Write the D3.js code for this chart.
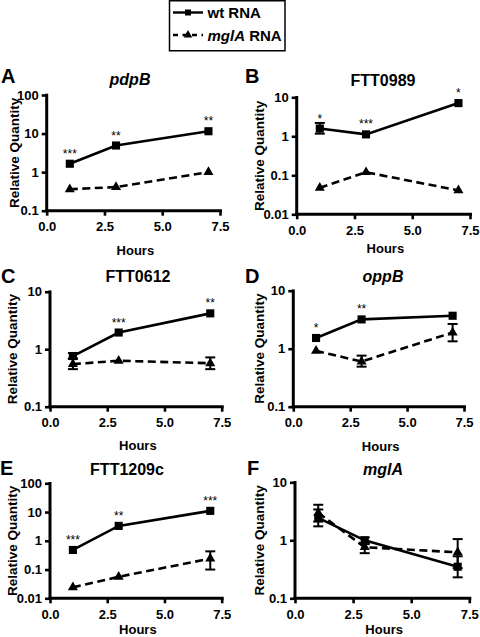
<!DOCTYPE html>
<html><head><meta charset="utf-8">
<script src="https://cdn.jsdelivr.net/npm/d3@7"></script>
<style>
body{margin:0;background:#fff}
svg{display:block}
text{font-family:"Liberation Sans",Arial,Helvetica,sans-serif;fill:#000}
</style>
</head><body>
<svg id="chart" width="480" height="637"></svg>
<script>
// ---------------- data ----------------
const hours = [1, 3, 7];
const xTicks = [0, 2.5, 5, 7.5];
const panelLetters = ["A", "B", "C", "D", "E", "F"];
const panelTitles = ["pdpB", "FTT0989", "FTT0612", "oppB", "FTT1209c", "mglA"];
const titleItalic = [true, false, false, true, false, true];
const yDomains = [[0.1, 100], [0.01, 10], [0.1, 10], [0.1, 10], [0.01, 100], [0.1, 10]];

const wtValues = [
  [1.65, 4.9, 11.5],
  [1.58, 1.12, 7.1],
  [0.76, 1.95, 4.2],
  [1.53, 3.2, 3.7],
  [0.48, 3.3, 11.0],
  [2.43, 1.0, 0.35]
];
const wtLow = [
  [1.65, 4.9, 11.5],
  [1.17, 1.12, 7.1],
  [0.68, 1.95, 4.2],
  [1.53, 3.2, 3.7],
  [0.48, 3.3, 11.0],
  [1.74, 0.86, 0.23]
];
const wtHigh = [
  [1.65, 4.9, 11.5],
  [2.2, 1.12, 7.1],
  [0.86, 1.95, 4.2],
  [1.53, 3.2, 3.7],
  [0.48, 3.3, 11.0],
  [3.4, 1.12, 0.53]
];
const mglValues = [
  [0.36, 0.41, 1.0],
  [0.048, 0.12, 0.041],
  [0.55, 0.63, 0.57],
  [0.92, 0.6, 1.9],
  [0.024, 0.056, 0.24],
  [2.97, 0.76, 0.62]
];
const mglLow = [
  [0.36, 0.41, 1.0],
  [0.048, 0.12, 0.041],
  [0.45, 0.63, 0.45],
  [0.92, 0.49, 1.34],
  [0.024, 0.056, 0.1],
  [2.1, 0.6, 0.33]
];
const mglHigh = [
  [0.36, 0.41, 1.0],
  [0.048, 0.12, 0.041],
  [0.69, 0.63, 0.72],
  [0.92, 0.76, 2.67],
  [0.024, 0.056, 0.43],
  [4.1, 0.9, 1.05]
];
const stars = [
  ["***", "**", "**"],
  ["*", "***", "*"],
  ["", "***", "**"],
  ["*", "**", ""],
  ["***", "**", "***"],
  ["", "", ""]
];
const legendLabels = [["wt RNA", ""], ["mglA", " RNA"]];

// ---------------- layout ----------------
const layout = [
  {left: 46.7, right: 220,   top: 95,    bottom: 210.7, lx: 1,   ly: 83,  tx: 130, ty: 85,  ylx: 9,   hy: 255},
  {left: 296.7, right: 470,  top: 97.3,  bottom: 214.3, lx: 245, ly: 83,  tx: 383, ty: 86,  ylx: 254, hy: 252.5},
  {left: 50,   right: 221.7, top: 291.7, bottom: 406.7, lx: 1,   ly: 283, tx: 138, ty: 282, ylx: 7,   hy: 450},
  {left: 293.3, right: 464,  top: 290.7, bottom: 406.7, lx: 245, ly: 283, tx: 383, ty: 282, ylx: 254, hy: 451},
  {left: 50,   right: 221.7, top: 483.3, bottom: 598.3, lx: 0,   ly: 475, tx: 127, ty: 475, ylx: 7,   hy: 633.5},
  {left: 295,  right: 469.3, top: 482.3, bottom: 598.3, lx: 247, ly: 475, tx: 383, ty: 475, ylx: 254, hy: 633.5}
];

const svg = d3.select("#chart");
const sqSym = d3.symbol().type(d3.symbolSquare).size(66);
const triSym = d3.symbol().type(d3.symbolTriangle).size(44);

function fmtY(d) {
  return d >= 1 ? d3.format("d")(d) : String(+d.toPrecision(1));
}

layout.forEach((L, i) => {
  const g = svg.append("g");
  const x = d3.scaleLinear().domain([0, 7.5]).range([L.left, L.right]);
  const y = d3.scaleLog().domain(yDomains[i]).range([L.bottom, L.top]);
  const decades = [];
  for (let v = yDomains[i][0]; v <= yDomains[i][1] * 1.0001; v *= 10) decades.push(+v.toPrecision(1));

  // axes
  const xa = g.append("g").attr("transform", `translate(0,${L.bottom})`)
    .call(d3.axisBottom(x).tickValues(xTicks).tickFormat(d3.format(".1f")).tickSize(5).tickPadding(6));
  xa.select(".domain").remove();
  xa.selectAll("line").attr("stroke", "#000").attr("stroke-width", 2.6);
  xa.selectAll("text").attr("font-size", 13).attr("font-weight", "bold");

  const ya = g.append("g").attr("transform", `translate(${L.left},0)`)
    .call(d3.axisLeft(y).tickValues(decades).tickFormat(fmtY).tickSize(5).tickPadding(3));
  ya.select(".domain").remove();
  ya.selectAll("line").attr("stroke", "#000").attr("stroke-width", 2.6);
  ya.selectAll("text").attr("font-size", 13).attr("font-weight", "bold");

  g.append("line").attr("x1", L.left).attr("x2", L.left)
    .attr("y1", L.top - 1.3).attr("y2", L.bottom + 1.5)
    .attr("stroke", "#000").attr("stroke-width", 3);
  g.append("line").attr("x1", L.left - 1.5).attr("x2", L.right + 2)
    .attr("y1", L.bottom).attr("y2", L.bottom)
    .attr("stroke", "#000").attr("stroke-width", 3);

  // labels
  g.append("text").attr("x", L.lx).attr("y", L.ly)
    .attr("font-size", 20).attr("font-weight", "bold").text(panelLetters[i]);
  g.append("text").attr("x", L.tx).attr("y", L.ty).attr("text-anchor", "middle")
    .attr("font-size", 16).attr("font-weight", "bold")
    .attr("font-style", titleItalic[i] ? "italic" : "normal").text(panelTitles[i]);
  g.append("text").attr("transform", `translate(${L.ylx},${(L.top + L.bottom) / 2}) rotate(-90)`)
    .attr("text-anchor", "middle").attr("dy", "0.72em")
    .attr("font-size", 13.5).attr("font-weight", "bold").text("Relative Quantity");
  g.append("text").attr("x", (L.left + L.right) / 2 + 2).attr("y", L.hy)
    .attr("text-anchor", "middle").attr("font-size", 13).attr("font-weight", "bold").text("Hours");

  const line = d3.line().x(d => x(d[0])).y(d => y(d[1]));
  const series = [
    {vals: mglValues[i], lo: mglLow[i], hi: mglHigh[i], dash: "8,4.5", sym: triSym},
    {vals: wtValues[i], lo: wtLow[i], hi: wtHigh[i], dash: null, sym: sqSym}
  ];
  series.forEach(s => {
    const pts = hours.map((h, k) => [h, s.vals[k]]);
    g.append("path").datum(pts).attr("d", line).attr("fill", "none")
      .attr("stroke", "#000").attr("stroke-width", 2.6)
      .attr("stroke-dasharray", s.dash);
    hours.forEach((h, k) => {
      if (s.hi[k] > s.lo[k]) {
        const cx = x(h), y1 = y(s.lo[k]), y2 = y(s.hi[k]);
        g.append("line").attr("x1", cx).attr("x2", cx).attr("y1", y1).attr("y2", y2)
          .attr("stroke", "#000").attr("stroke-width", 2);
        [y1, y2].forEach(yy => g.append("line").attr("x1", cx - 5).attr("x2", cx + 5)
          .attr("y1", yy).attr("y2", yy).attr("stroke", "#000").attr("stroke-width", 2));
      }
    });
    g.selectAll(null).data(pts).enter().append("path")
      .attr("d", s.sym).attr("transform", d => `translate(${x(d[0])},${y(d[1])})`)
      .attr("fill", "#000");
  });

  // significance stars
  hours.forEach((h, k) => {
    if (stars[i][k]) {
      g.append("text").attr("x", x(h)).attr("y", y(wtValues[i][k]) - 6)
        .attr("text-anchor", "middle").attr("font-size", 12).text(stars[i][k]);
    }
  });
});

// ---------------- legend ----------------
const lg = svg.append("g");
lg.append("rect").attr("x", 169.5).attr("y", 0.75).attr("width", 115.5).attr("height", 50)
  .attr("fill", "none").attr("stroke", "#000").attr("stroke-width", 1.5);
const legY = [12.5, 35];
legY.forEach((yy, j) => {
  lg.append("line").attr("x1", 173).attr("x2", 203).attr("y1", yy).attr("y2", yy)
    .attr("stroke", "#000").attr("stroke-width", 2.4)
    .attr("stroke-dasharray", j === 1 ? "5,4.5" : null);
  lg.append("path").attr("d", j === 0 ? d3.symbol().type(d3.symbolSquare).size(36)() : d3.symbol().type(d3.symbolTriangle).size(32)())
    .attr("transform", `translate(188,${yy})`).attr("fill", "#000");
  const t = lg.append("text").attr("x", 207.5).attr("y", yy + 5.5)
    .attr("font-size", 15).attr("font-weight", "bold");
  t.append("tspan").attr("font-style", j === 1 ? "italic" : "normal").text(legendLabels[j][0]);
  if (legendLabels[j][1]) t.append("tspan").text(legendLabels[j][1]);
});
</script>
</body></html>
